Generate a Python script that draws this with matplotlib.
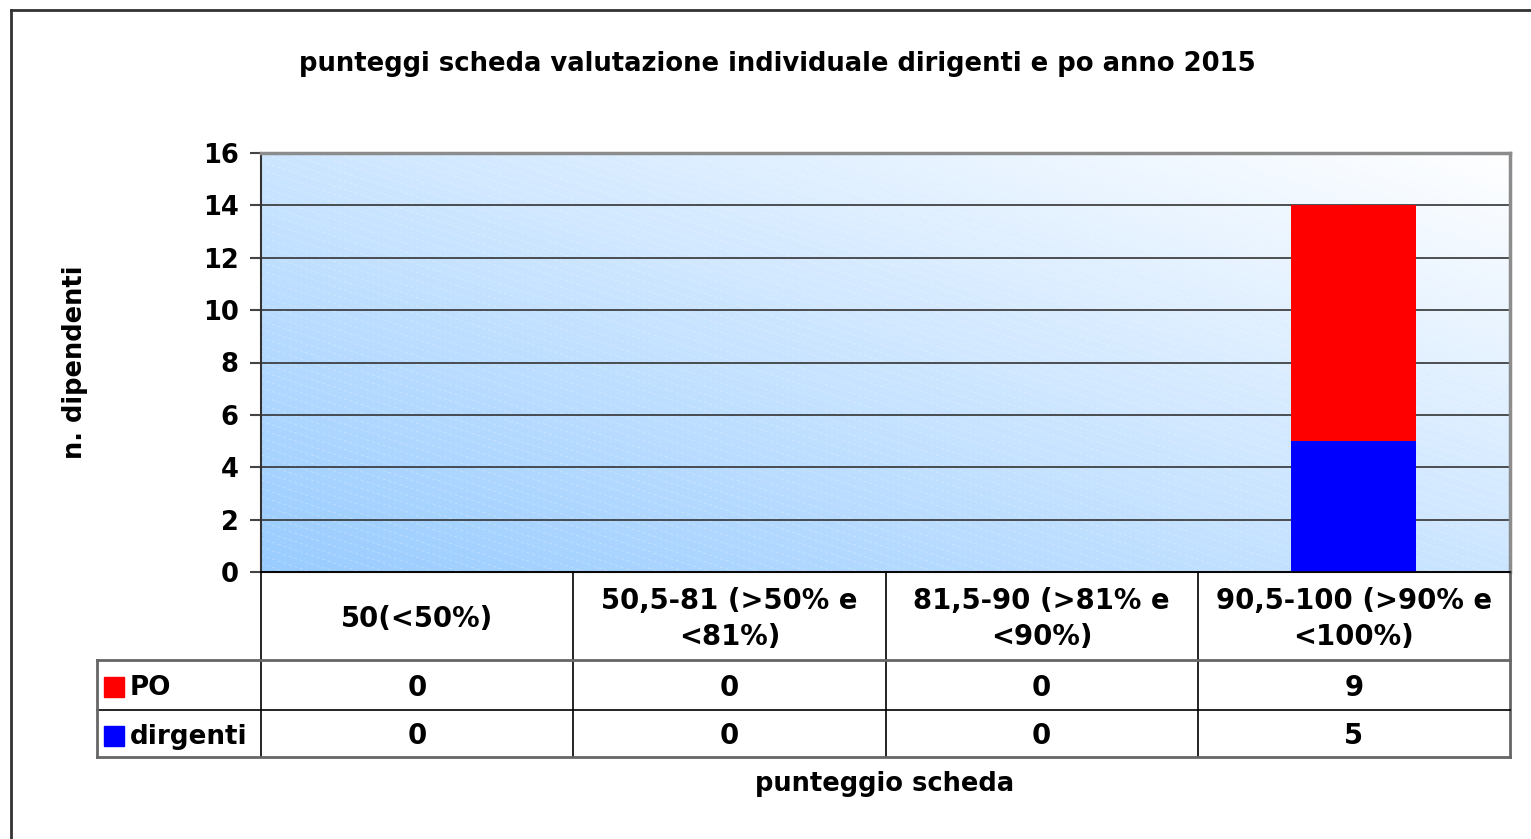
import matplotlib.pyplot as plt
import numpy as np
from matplotlib.lines import Line2D
from matplotlib.patches import Rectangle
from matplotlib.transforms import blended_transform_factory

plt.rcParams['font.family'] = ['DejaVu Sans']
plt.rcParams['font.weight'] = 'bold'

categories = ['50(<50%)', '50,5-81 (>50% e\n<81%)', '81,5-90 (>81% e\n<90%)', '90,5-100 (>90% e\n<100%)']
po = [0, 0, 0, 9]
dirgenti = [0, 0, 0, 5]
series_names = ['PO', 'dirgenti']
series_colors = ['#ff0000', '#0000ff']
yticks = [0, 2, 4, 6, 8, 10, 12, 14, 16]

W, H = 1531, 839
fig = plt.figure(figsize=(W / 100, H / 100), dpi=100)


def fx(x):
    return x / W


def fy(y):
    return 1 - y / H


# outer chart frame (clipped at right/bottom like the original)
fig.add_artist(Line2D([fx(11), fx(11)], [fy(10), 0], color='#333333', lw=2))
fig.add_artist(Line2D([fx(11), 1], [fy(10), fy(10)], color='#333333', lw=2))

ax = fig.add_axes([fx(261), fy(572), fx(1510) - fx(261), fy(153) - fy(572)])

# gradient background of the plot area
gx, gy = np.meshgrid(np.linspace(0, 1, 300), np.linspace(0, 1, 120))
t = (gx + gy) / 2
c0 = np.array([0.6, 0.8, 1.0])
c1 = np.array([1.0, 1.0, 1.0])
img = c0[None, None, :] * (1 - t[..., None]) + c1[None, None, :] * t[..., None]
ax.imshow(img, extent=[0, 1, 0, 1], transform=ax.transAxes, origin='lower',
          aspect='auto', zorder=0)
# faint diagonal texture
for k in np.arange(-1.0, 1.0, 0.02):
    ax.plot([0, 1], [k + 1.0, k], transform=ax.transAxes,
            color='white', lw=0.6, ls=(0, (4, 3)), alpha=0.3, zorder=0.5)

x = np.arange(len(categories))
ax.bar(x, dirgenti, width=0.4, color=series_colors[1], zorder=3)
ax.bar(x, po, width=0.4, bottom=dirgenti, color=series_colors[0], zorder=3)

ax.set_xlim(-0.5, len(categories) - 0.5)
ax.set_ylim(0, 16)
ax.set_yticks(yticks)
ax.set_xticks([])
ax.tick_params(axis='y', length=8, width=1.5, color='#444444', labelsize=18.5, pad=8)
for lab in ax.get_yticklabels():
    lab.set_fontweight('bold')
for v in yticks[1:-1]:
    ax.axhline(v, color='#333333', lw=1.2, zorder=2)
ax.spines['left'].set_color('#333333')
ax.spines['left'].set_linewidth(1.5)
ax.spines['bottom'].set_color('#333333')
ax.spines['bottom'].set_linewidth(1.5)
ax.spines['top'].set_color('#8c8c8c')
ax.spines['top'].set_linewidth(2.5)
ax.spines['right'].set_color('#8c8c8c')
ax.spines['right'].set_linewidth(2.5)

ax.set_ylabel('n. dipendenti', fontsize=18.5, fontweight='bold')
ax.yaxis.set_label_coords((88 - 261) / 1249, 0.5)

fig.text(fx(777), fy(64), 'punteggi scheda valutazione individuale dirigenti e po anno 2015',
         ha='center', va='center', fontsize=18.6, fontweight='bold')
fig.text(fx(885), fy(784), 'punteggio scheda', ha='center', va='center',
         fontsize=18.5, fontweight='bold')

# data table under the chart, columns tied to the axis categories
tr = blended_transform_factory(ax.transData, fig.transFigure)
y_top, y_head, y_row1, y_bot = fy(572), fy(660), fy(710), fy(757)
x_left = fx(97)
dy = 3 / H  # small baseline correction
n = len(categories)
inner = dict(color='#000000', lw=1.2)
outer = dict(color='#666666', lw=2)
for i in range(n + 1):
    edge = (i == n)
    fig.add_artist(Line2D([i - 0.5, i - 0.5], [y_top, y_bot], transform=tr,
                          **(outer if edge else inner)))
# horizontal lines
fig.add_artist(Line2D([-0.5, n - 0.5], [y_top, y_top], transform=tr, **inner))
fig.add_artist(Line2D([x_left, ax.get_position().x1], [y_head, y_head], **outer))
fig.add_artist(Line2D([x_left, ax.get_position().x1], [y_row1, y_row1], **inner))
fig.add_artist(Line2D([x_left, ax.get_position().x1], [y_bot, y_bot], **outer))
fig.add_artist(Line2D([x_left, x_left], [y_head, y_bot], **outer))

for i, cat in enumerate(categories):
    fig.text(i, (y_top + y_head) / 2 - dy, cat, transform=tr, ha='center', va='center',
             fontsize=19.8, fontweight='bold', linespacing=1.4)
    fig.text(i, (y_head + y_row1) / 2 - dy, str(po[i]), transform=tr, ha='center',
             va='center', fontsize=19.8, fontweight='bold')
    fig.text(i, (y_row1 + y_bot) / 2 - dy, str(dirgenti[i]), transform=tr, ha='center',
             va='center', fontsize=19.8, fontweight='bold')

for name, color, (ya, yb) in zip(series_names, series_colors,
                                [(y_head, y_row1), (y_row1, y_bot)]):
    yc = (ya + yb) / 2
    fig.add_artist(Rectangle((fx(104), yc - 12 / H), 20 / W, 20 / H,
                             transform=fig.transFigure, color=color))
    fig.text(fx(130), yc - dy, name, ha='left', va='center', fontsize=18.8, fontweight='bold')

fig.savefig('out.png', dpi=100)
